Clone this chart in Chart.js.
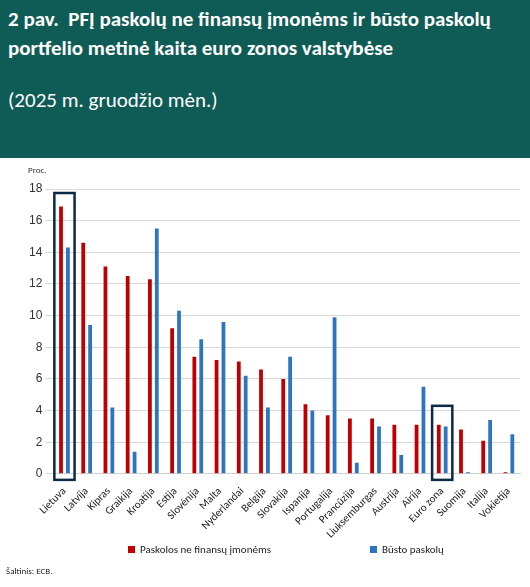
<!DOCTYPE html>
<html><head><meta charset="utf-8">
<script src="https://cdn.jsdelivr.net/npm/chart.js@4"></script>
<style>
body{margin:0;width:530px;height:587px;overflow:hidden;font-family:Calibri,Carlito,"Liberation Sans",Arial,sans-serif;background:#fff}
#hdr{background:#0e5c55;color:#fff;height:158px;box-sizing:border-box;padding:5px 20px 0 8px}
#hdr .t{font-weight:bold;font-size:21px;line-height:29px}
#hdr .s{font-size:21px;margin-top:24px}
#wrap{position:relative;width:530px;height:386px}
#leg{position:absolute;top:543px;left:0;width:530px;font-size:11px;color:#222}
#leg span{position:absolute;white-space:nowrap}
#leg i{display:inline-block;width:7px;height:7px;margin-right:5px}
#src{position:absolute;top:565px;left:6px;font-size:9px;color:#222}
</style></head><body>
<div id="hdr"><div class="t">2 pav.&nbsp; PFĮ paskolų ne finansų įmonėms ir būsto paskolų portfelio metinė kaita euro zonos valstybėse</div><div class="s">(2025 m. gruodžio mėn.)</div></div>
<div id="wrap"><canvas id="c"></canvas></div>
<div id="leg"><span style="left:128px"><i style="background:#c00000"></i>Paskolos ne finansų įmonėms</span><span style="left:370px"><i style="background:#2e75c0"></i>Būsto paskolų</span></div>
<div id="src">Šaltinis: ECB.</div>
<script>
const categories=["Lietuva","Latvija","Kipras","Graikija","Kroatija","Estija","Slovėnija","Malta","Nyderlandai","Belgija","Slovakija","Ispanija","Portugalija","Prancūzija","Liuksemburgas","Austrija","Airija","Euro zona","Suomija","Italija","Vokietija"];
const firmLoans=[16.9,14.6,13.1,12.5,12.3,9.2,7.4,7.2,7.1,6.6,6.0,4.4,3.7,3.5,3.5,3.1,3.1,3.1,2.8,2.1,0.1];
const housingLoans=[14.3,9.4,4.2,1.4,15.5,10.3,8.5,9.6,6.2,4.2,7.4,4.0,9.9,0.7,3.0,1.2,5.5,3.0,0.1,3.4,2.5];
const yTicks=[0,2,4,6,8,10,12,14,16,18];
const boxed=["Lietuva","Euro zona"];
const boxPlugin={id:'box',afterDatasetsDraw(ch){
  const x=ch.scales.x,y=ch.scales.y,ctx=ch.ctx;
  const w=(x.getPixelForValue(1)-x.getPixelForValue(0));
  ctx.save();ctx.strokeStyle='#0b2a45';ctx.lineWidth=2.5;
  boxed.forEach(n=>{const i=categories.indexOf(n);const cx=x.getPixelForValue(i);
    const top=n==="Lietuva"?y.getPixelForValue(18)+4:y.getPixelForValue(4.3);
    ctx.strokeRect(cx-w*0.5+1,top,w-2,y.getPixelForValue(0)+6-top);});
  ctx.fillStyle='#333';ctx.font='9px Calibri,Carlito,sans-serif';ctx.fillText('Proc.',28,15);
  ctx.restore();}};
new Chart(document.getElementById('c'),{type:'bar',
 data:{labels:categories,datasets:[
  {label:'Paskolos ne finansų įmonėms',data:firmLoans,backgroundColor:'#c00000',barPercentage:0.55,categoryPercentage:0.62},
  {label:'Būsto paskolų',data:housingLoans,backgroundColor:'#2e75c0',barPercentage:0.55,categoryPercentage:0.62}]},
 options:{responsive:true,maintainAspectRatio:false,animation:false,
  layout:{padding:{top:31,right:10,left:26}},
  plugins:{legend:{display:false},tooltip:{enabled:false}},
  scales:{x:{grid:{display:false},border:{color:'#d0d0d0'},ticks:{color:'#222',font:{size:11,family:'Calibri,Carlito,sans-serif'},maxRotation:45,minRotation:45,autoSkip:false}},
   y:{min:0,max:18,afterBuildTicks:a=>{a.ticks=yTicks.map(v=>({value:v}));},border:{display:false},grid:{color:'#d9d9d9'},ticks:{color:'#333',font:{size:12}}}}},
 plugins:[boxPlugin]});
</script></body></html>
